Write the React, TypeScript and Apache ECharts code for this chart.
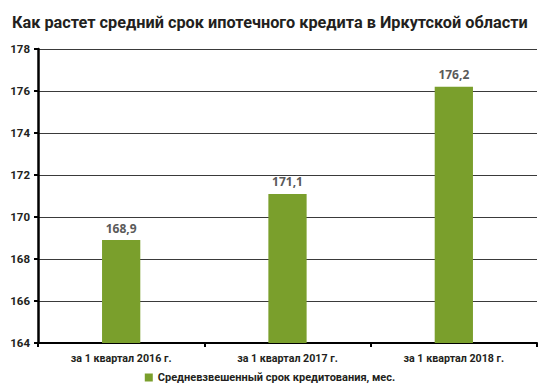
import React, { useEffect, useRef } from "react";
import * as echarts from "echarts";

const categories = ["за 1 квартал 2016 г.", "за 1 квартал 2017 г.", "за 1 квартал 2018 г."];
const values = [168.9, 171.1, 176.2];
const seriesName = "Средневзвешенный срок кредитования, мес.";
const titleText = "Как растет средний срок ипотечного кредита в Иркутской области";

export default function App() {
  const ref = useRef<HTMLDivElement>(null);
  useEffect(() => {
    const chart = echarts.init(ref.current!, null, { renderer: "svg" });
    chart.setOption({
      animation: false,
      backgroundColor: "#ffffff",
      title: {
        text: titleText,
        left: 7,
        top: 9,
        textStyle: { fontFamily: "Roboto", fontWeight: 700, fontSize: 16.3, color: "#231f20" },
      },
      legend: {
        bottom: -2,
        left: "center",
        itemWidth: 8,
        itemHeight: 8,
        icon: "rect",
        itemGap: 4,
        textStyle: { fontFamily: "Roboto", fontWeight: 700, fontSize: 11, color: "#231f20" },
        data: [seriesName],
      },
      grid: { left: 38, right: 3, top: 49, bottom: 43 },
      xAxis: {
        type: "category",
        data: categories,
        axisLine: { lineStyle: { color: "#000", width: 2 } },
        axisTick: { show: true, length: 4, lineStyle: { color: "#000", width: 2 } },
        axisLabel: { fontFamily: "Roboto", fontWeight: 700, fontSize: 10.7, color: "#231f20", margin: 10 },
      },
      yAxis: {
        type: "value",
        min: 164,
        max: 178,
        interval: 2,
        axisLine: { show: true, lineStyle: { color: "#000", width: 2.5 } },
        axisTick: { show: true, length: 4, lineStyle: { color: "#000", width: 2 } },
        splitLine: { lineStyle: { color: "#3a3a3a", width: 1 } },
        axisLabel: { fontFamily: "Roboto", fontWeight: 700, fontSize: 11.5, color: "#231f20", margin: 8 },
      },
      series: [
        {
          name: seriesName,
          type: "bar",
          data: values,
          barWidth: "23%",
          itemStyle: { color: "#7a9f2c" },
          label: {
            show: true,
            position: "top",
            distance: 6,
            formatter: (p: any) => String(p.value).replace(".", ","),
            fontFamily: "Open Sans",
            fontWeight: 700,
            fontSize: 12,
            color: "#5a5a5a",
          },
        },
      ],
    });
    return () => chart.dispose();
  }, []);
  return <div ref={ref} style={{ width: 540, height: 386, position: "fixed", left: 0, top: 0 }} />;
}
